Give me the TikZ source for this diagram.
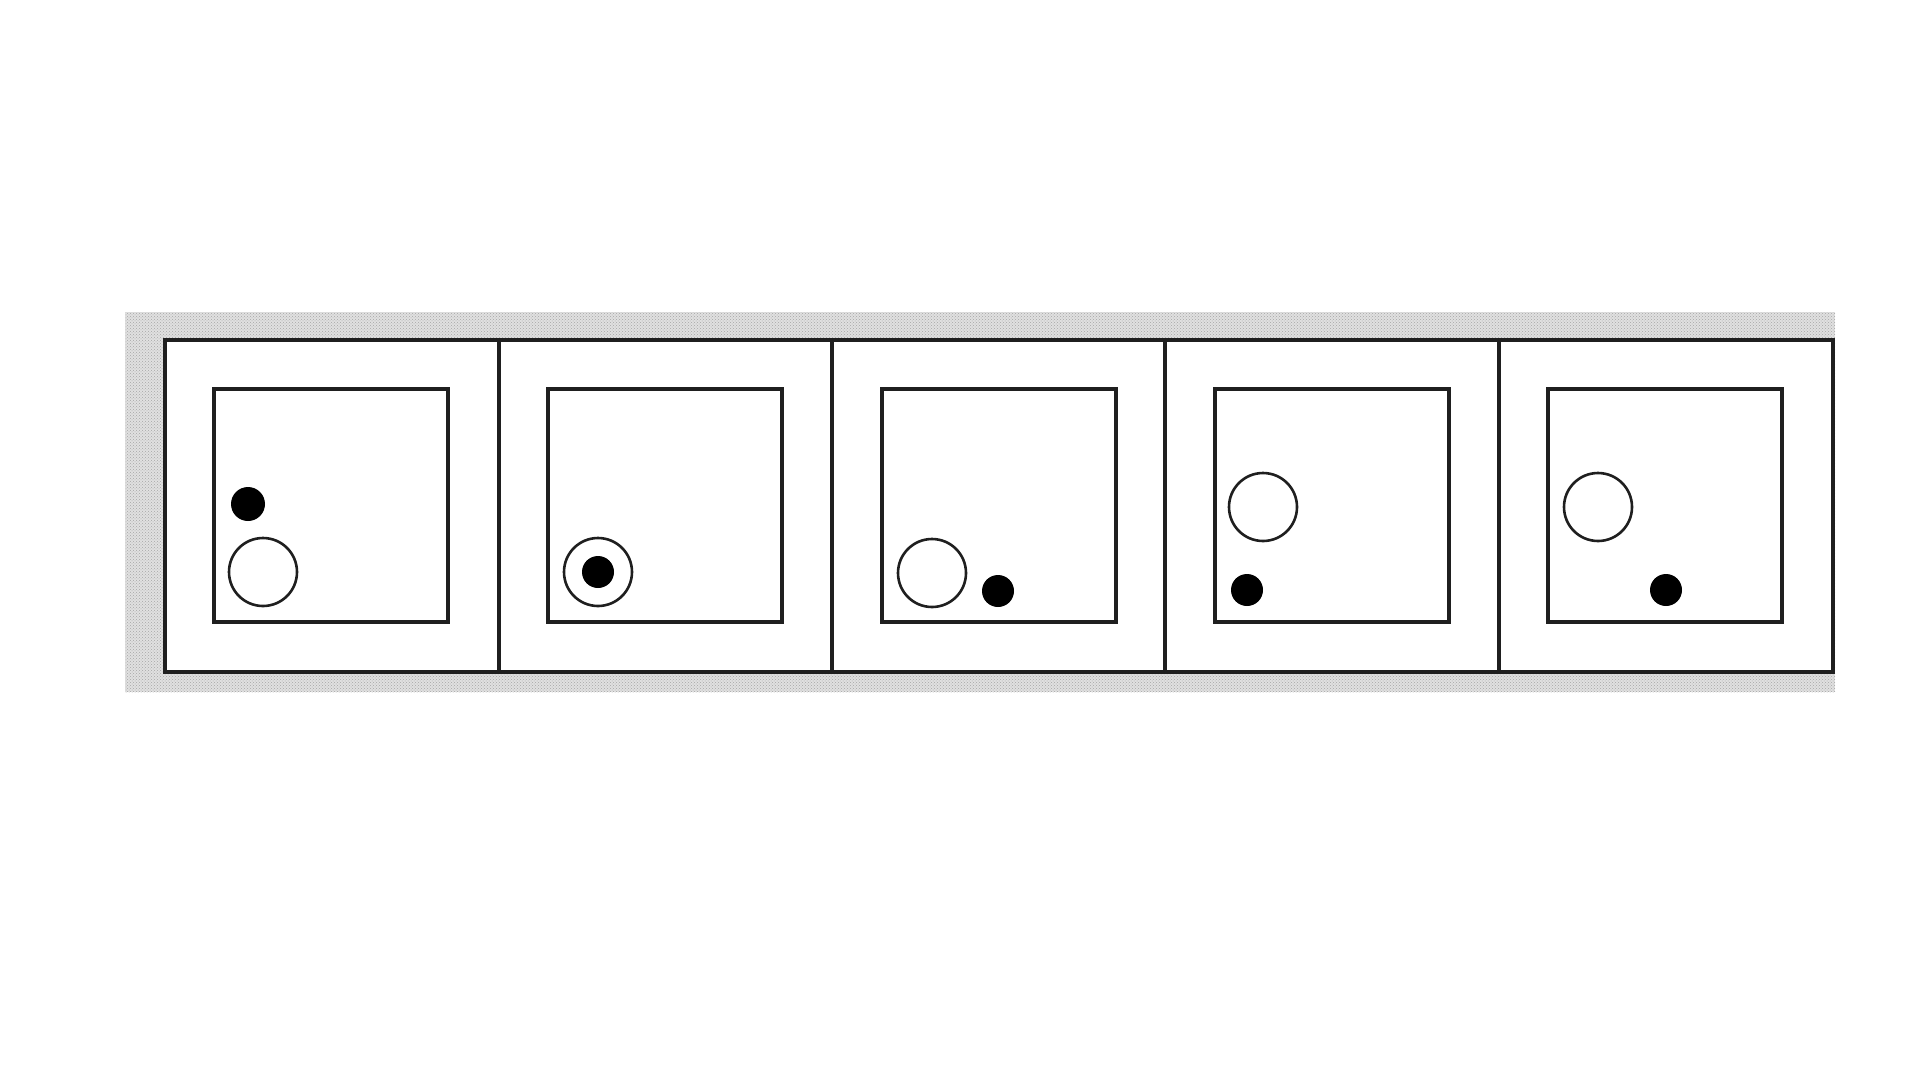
\documentclass[tikz,border=0pt]{standalone}
\usetikzlibrary{patterns}
\begin{document}
\begin{tikzpicture}[x=1pt,y=-1pt,
  frame/.style={draw=black!88,line width=3.4pt},
  inner/.style={draw=black!88,line width=3.2pt},
  ring/.style={draw=black!88,line width=2.6pt,fill=white},
  blob/.style={fill=black,draw=none}]
\useasboundingbox (0,0) rectangle (1920,1080);
\fill[white] (0,0) rectangle (1920,1080);
% stippled grey band
\fill[black!12] (125,312) rectangle (1835,692);
\fill[pattern=crosshatch dots,pattern color=black!35] (125,312) rectangle (1835,692);
\fill[white] (165,340) rectangle (1833,672);
% outer frame and dividers
\draw[frame] (165,340) rectangle (1833,672);
\foreach \x in {499,832,1165,1499} \draw[frame] (\x,340) -- (\x,672);
% inner squares
\foreach \x in {214,548,882,1215,1548} \draw[inner] (\x,389) rectangle ++(234,233);
% panel 1
\fill[blob] (248,504) circle (17);
\draw[ring] (263,572) circle (34);
% panel 2
\draw[ring] (598,572) circle (34);
\fill[blob] (598,572) circle (16);
% panel 3
\draw[ring] (932,573) circle (34);
\fill[blob] (998,591) circle (16);
% panel 4
\draw[ring] (1263,507) circle (34);
\fill[blob] (1247,590) circle (16);
% panel 5
\draw[ring] (1598,507) circle (34);
\fill[blob] (1666,590) circle (16);
\end{tikzpicture}
\end{document}
